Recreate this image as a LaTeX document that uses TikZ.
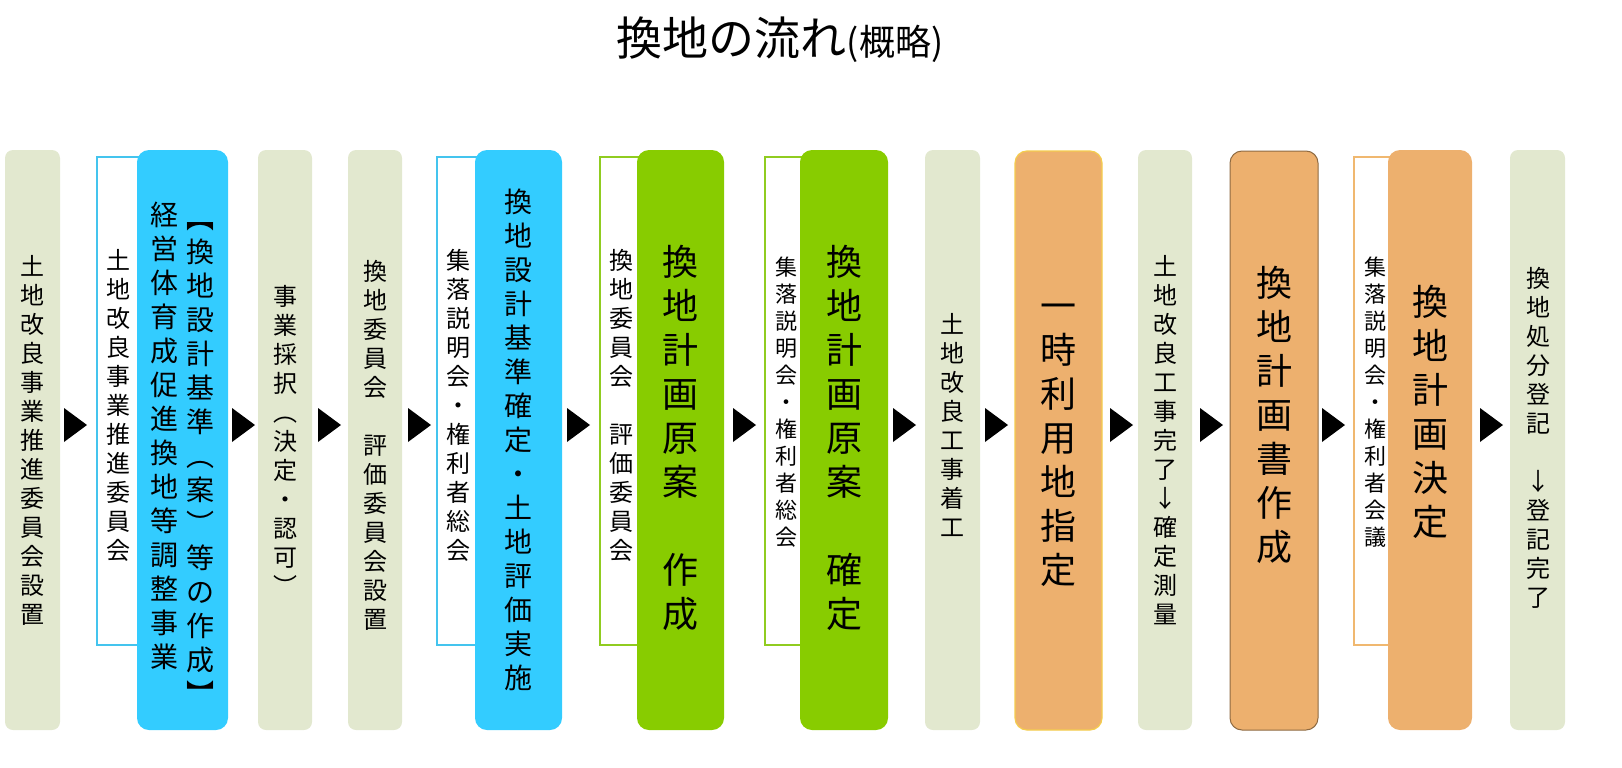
\documentclass[tikz,border=0pt]{standalone}
\usepackage{fontspec}
\setmainfont{Noto Sans CJK JP}
\makeatletter
\newcommand\vt[1]{\gdef\vtbuf{}\gdef\vtsep{}%
 \@tfor\vtx:=#1\do{%
  \expandafter\g@addto@macro\expandafter\vtbuf\expandafter{\vtsep}%
  \expandafter\g@addto@macro\expandafter\vtbuf\expandafter{\vtx}%
  \gdef\vtsep{\\}}%
 \vtbuf}
\makeatother
\definecolor{beige}{HTML}{E2E8CF}
\definecolor{bl}{HTML}{33CCFF}
\definecolor{bline}{HTML}{44C4EE}
\definecolor{gr}{HTML}{88CC00}
\definecolor{gline}{HTML}{90CC20}
\definecolor{og}{HTML}{EDB06E}
\definecolor{oline}{HTML}{F0B870}
\tikzset{
 beigebox/.style={fill=beige,rounded corners=8pt},
 wbox/.style={fill=white,draw=#1,line width=2.5pt},
 cbox/.style={fill=#1,rounded corners=12pt},
 arr/.style={fill=black},
 vs/.style={align=center,inner sep=0pt,font=\fontsize{24}{29}\selectfont},
 vm/.style={align=center,inner sep=0pt,font=\fontsize{28}{34}\selectfont},
 vb/.style={align=center,inner sep=0pt,font=\fontsize{36}{44}\selectfont},
}
\begin{document}
\begin{tikzpicture}[x=1pt,y=-1pt]
\useasboundingbox (0,0) rectangle (1622,768);
\node (title) at (780,40) {\fontsize{46}{50}\selectfont 換地の流れ{\fontsize{36}{40}\selectfont (概略)}};
% arrows
\foreach \a in {64,232,318,408,567,733,893,985,1110,1200,1322,1480}
  \fill[arr] (\a,408) -- (\a+23,425) -- (\a,442) -- cycle;
% col1
\fill[beigebox] (5,150) rectangle (60,730);
\node[vs] (t1) at (32,440) {\vt{土地改良事業推進委員会設置}};
% col2
\draw[wbox=bline] (97,157) rectangle (142,645);
\fill[cbox=bl] (137,150) rectangle (228,730);
\node[vs] (t2a) at (118,405) {\vt{土地改良事業推進委員会}};
\node[vm,anchor=north] (t2b) at (200,222) {\vt{︻換地設計基準︵案︶等の作成︼}};
\node[vm,anchor=north] (t2c) at (164,202) {\vt{経営体育成促進換地等調整事業}};
% col3
\fill[beigebox] (258,150) rectangle (312,730);
\node[vs] (t3) at (285,440) {\vt{事業採択︵決定・認可︶}};
% col4
\fill[beigebox] (348,150) rectangle (402,730);
\node[vs] (t4) at (375,445) {\vt{換地委員会　評価委員会設置}};
% col5
\draw[wbox=bline] (437,157) rectangle (480,645);
\fill[cbox=bl] (475,150) rectangle (562,730);
\node[vs] (t5a) at (458,405) {\vt{集落説明会・権利者総会}};
\node[vm] (t5b) at (518,440) {\vt{換地設計基準確定・土地評価実施}};
% col6
\draw[wbox=gline] (600,157) rectangle (642,645);
\fill[cbox=gr] (637,150) rectangle (724,730);
\node[vs] (t6a) at (621,405) {\vt{換地委員会　評価委員会}};
\node[vb] (t6b) at (680,438) {\vt{換地計画原案　作成}};
% col7
\draw[wbox=gline] (765,157) rectangle (808,645);
\fill[cbox=gr] (800,150) rectangle (888,730);
\node[vs,font=\fontsize{22}{27}\selectfont] (t7a) at (786,402) {\vt{集落説明会・権利者総会}};
\node[vb] (t7b) at (844,438) {\vt{換地計画原案　確定}};
% col8
\fill[beigebox] (925,150) rectangle (980,730);
\node[vs] (t8) at (952,425) {\vt{土地改良工事着工}};
% col9
\draw[fill=og,draw=oline!70!yellow,line width=1.2pt,rounded corners=12pt] (1015,151) rectangle (1102,730);
\node[vb] (t9) at (1058,445) {\vt{一時利用地指定}};
% col10
\fill[beigebox] (1138,150) rectangle (1192,730);
\node[vs] (t10) at (1165,440) {\vt{土地改良工事完了↓確定測量}};
% col11
\draw[fill=og,draw=og!60!black,line width=1pt,rounded corners=12pt] (1230,151) rectangle (1318,730);
\node[vb] (t11) at (1274,415) {\vt{換地計画書作成}};
% col12
\draw[wbox=oline] (1354,157) rectangle (1398,645);
\fill[cbox=og] (1388,150) rectangle (1472,730);
\node[vs,font=\fontsize{22}{27}\selectfont] (t12a) at (1375,402) {\vt{集落説明会・権利者会議}};
\node[vb] (t12b) at (1430,412) {\vt{換地計画決定}};
% col13
\fill[beigebox] (1510,150) rectangle (1565,730);
\node[vs] (t13) at (1538,438) {\vt{換地処分登記　↓登記完了}};
\end{tikzpicture}
\end{document}
